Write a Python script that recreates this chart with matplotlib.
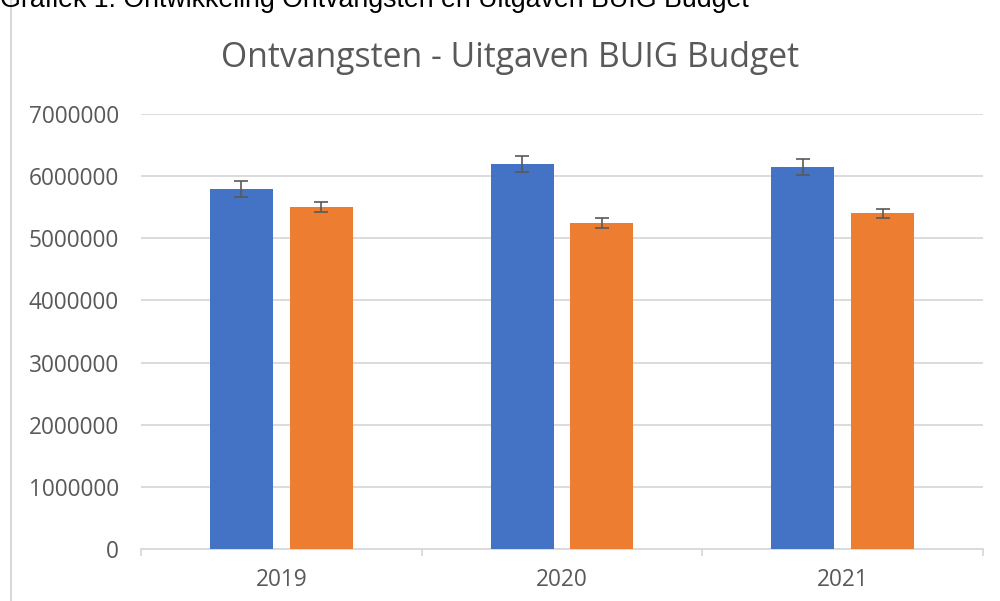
import matplotlib.pyplot as plt
import matplotlib.patches as patches
import numpy as np

# Data
years = ["2019", "2020", "2021"]
ontvangsten = [5800000, 6200000, 6150000]
uitgaven = [5500000, 5250000, 5400000]
err_ontvangsten = [130000, 130000, 130000]
err_uitgaven = [80000, 80000, 78000]

blue = "#4472C4"
orange = "#ED7D31"
grey_text = "#595959"
grid_col = "#D9D9D9"

fig = plt.figure(figsize=(10, 6.01), dpi=100)
ax = fig.add_axes([0.141, 0.0865, 0.842, 0.7238])

x = np.arange(len(years))
width = 0.224
offset = 0.142
ax.bar(x - offset, ontvangsten, width, color=blue, zorder=3,
       yerr=err_ontvangsten, capsize=4.7,
       error_kw=dict(ecolor=grey_text, elinewidth=1.2, capthick=1.2, zorder=4))
ax.bar(x + offset, uitgaven, width, color=orange, zorder=3,
       yerr=err_uitgaven, capsize=4.7,
       error_kw=dict(ecolor=grey_text, elinewidth=1.2, capthick=1.2, zorder=4))

ax.set_xlim(-0.5, 2.5)
ax.set_ylim(0, 7000000)
ax.set_yticks(np.arange(0, 7000001, 1000000))
ax.set_yticklabels([str(v) for v in range(0, 7000001, 1000000)])
ax.set_xticks(x)
ax.set_xticklabels(years)
ax.set_xticks([-0.5, 0.5, 1.5, 2.5], minor=True)

ax.grid(axis="y", color=grid_col, linewidth=1.3, zorder=0)
for s in ["top", "right", "left"]:
    ax.spines[s].set_visible(False)
ax.spines["bottom"].set_color(grid_col)
ax.spines["bottom"].set_linewidth(1.3)

ax.tick_params(axis="y", length=0, pad=16, labelsize=16.3, labelcolor=grey_text)
ax.tick_params(axis="x", which="major", length=0, pad=14, labelsize=16.3, labelcolor=grey_text)
ax.tick_params(axis="x", which="minor", length=5, width=1.3, color=grid_col)
for lab in ax.get_xticklabels() + ax.get_yticklabels():
    lab.set_family("Open Sans")

fig.text(0.51, 1 - 58 / 601, "Ontvangsten - Uitgaven BUIG Budget", ha="center", va="center",
         fontsize=24.3, color=grey_text, family="Open Sans")

# chart frame, cut off at right and bottom
fig.patches.append(patches.Rectangle((0.011, -0.05), 1.2, 1.05 + 1 - 11 / 601,
                                     transform=fig.transFigure, fill=False,
                                     edgecolor=grid_col, linewidth=1.5))

# caption above the chart, cut off at the top like in the source
fig.text(0.0, 1 - 7 / 601, "Grafiek 1: Ontwikkeling Ontvangsten en Uitgaven BUIG Budget",
         ha="left", va="baseline", fontsize=19.3, family="Liberation Sans", color="black")

plt.savefig("out.png", dpi=100)
